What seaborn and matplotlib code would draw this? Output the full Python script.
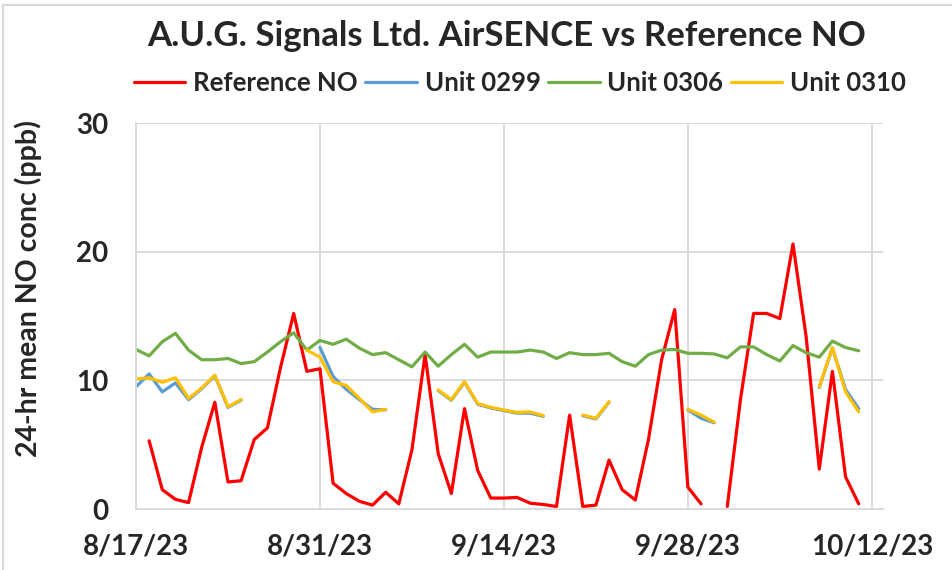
import numpy as np
import pandas as pd
import matplotlib
matplotlib.use("Agg")
import matplotlib.pyplot as plt
import matplotlib.dates as mdates
from matplotlib.lines import Line2D
import seaborn as sns

nan = np.nan

# daily 24-hr means, 8/17/23 .. 10/11/23
dates = pd.date_range("2023-08-17", periods=56, freq="D")

ref_no = [nan, 5.3, 1.5, 0.75, 0.5, 4.8, 8.3, 2.1, 2.2, 5.4,
          6.3, 11.0, 15.2, 10.7, 10.9, 2.0, 1.2, 0.6, 0.3, 1.3,
          0.4, 4.6, 12.0, 4.3, 1.2, 7.8, 3.0, 0.85, 0.85, 0.9,
          0.45, 0.35, 0.2, 7.3, 0.2, 0.3, 3.8, 1.5, 0.7, 5.4,
          11.6, 15.5, 1.7, 0.4, nan, 0.2, 8.5, 15.2, 15.2, 14.8,
          20.6, 13.4, 3.1, 10.7, 2.5, 0.4]

unit_0299 = [9.5, 10.5, 9.1, 9.8, 8.5, 9.35, 10.35, 7.9, 8.45, nan,
             nan, nan, nan, nan, 12.55, 10.3, 9.3, 8.5, 7.75, 7.7,
             nan, nan, nan, 9.2, 8.45, 9.85, 8.15, 7.85, 7.65, 7.45,
             7.45, 7.2, nan, nan, 7.25, 7.0, 8.3, nan, nan, nan,
             nan, nan, 7.7, 7.05, 6.7, nan, nan, nan, nan, nan,
             nan, nan, 9.45, 12.5, 9.3, 7.8]

unit_0306 = [12.4, 11.9, 13.0, 13.65, 12.35, 11.6, 11.6, 11.7, 11.3, 11.45,
             12.2, 13.0, 13.7, 12.35, 13.1, 12.8, 13.2, 12.5, 12.0, 12.15,
             11.6, 11.05, 12.2, 11.1, 12.0, 12.8, 11.8, 12.2, 12.2, 12.2,
             12.35, 12.2, 11.7, 12.15, 12.0, 12.0, 12.1, 11.45, 11.1, 12.0,
             12.35, 12.4, 12.1, 12.1, 12.05, 11.75, 12.6, 12.6, 12.0, 11.5,
             12.7, 12.15, 11.8, 13.05, 12.55, 12.3]

unit_0310 = [10.1, 10.2, 9.85, 10.2, 8.6, 9.4, 10.4, 7.95, 8.5, nan,
             nan, nan, nan, 12.35, 11.8, 9.9, 9.6, 8.6, 7.55, 7.75,
             nan, nan, nan, 9.25, 8.5, 9.9, 8.2, 7.9, 7.7, 7.5,
             7.55, 7.25, nan, nan, 7.3, 7.05, 8.35, nan, nan, nan,
             nan, nan, 7.75, 7.3, 6.75, nan, nan, nan, nan, nan,
             nan, nan, 9.5, 12.55, 9.1, 7.55]

series_names = ["Reference NO", "Unit 0299", "Unit 0306", "Unit 0310"]
series_colors = ["#FF0000", "#5B9BD5", "#70AD47", "#FFC000"]
tick_dates = ["2023-08-17", "2023-08-31", "2023-09-14", "2023-09-28", "2023-10-12"]

# long table; split each series at gaps so lines break like in Excel
frames = []
seg_id = 0
for name, vals in zip(series_names, [ref_no, unit_0299, unit_0306, unit_0310]):
    s = pd.Series(vals, index=dates)
    seg = s.isna().cumsum() + seg_id
    seg_id = seg.max() + 1
    part = pd.DataFrame({"date": dates, "value": s.values,
                         "series": name, "seg": seg.values}).dropna()
    frames.append(part)
df = pd.concat(frames, ignore_index=True)

sns.set_theme(style="white")
plt.rcParams["font.family"] = ["Lato", "DejaVu Sans"]
plt.rcParams["font.weight"] = "bold"

fig = plt.figure(figsize=(9.52, 5.70), dpi=100)
ax = fig.add_axes([136 / 952, 1 - 509 / 570, (883 - 136) / 952, (509 - 123) / 570])

sns.lineplot(data=df, x="date", y="value", hue="series", units="seg",
             estimator=None, hue_order=series_names,
             palette=dict(zip(series_names, series_colors)),
             linewidth=2.3, legend=False, ax=ax,
             solid_joinstyle="round", solid_capstyle="round")

grid_c = "#d9d9d9"
ax.set_ylim(0, 30)
ax.set_yticks([0, 10, 20, 30])
ax.set_xlim(pd.Timestamp("2023-08-17"), pd.Timestamp("2023-10-12") + pd.Timedelta(days=0.85))
ax.set_xticks(pd.to_datetime(tick_dates))
ax.xaxis.set_major_formatter(mdates.DateFormatter("%-m/%-d/%y"))
ax.grid(True, color=grid_c, linewidth=1.3)
ax.set_axisbelow(True)
for side in ["top", "right"]:
    ax.spines[side].set_visible(False)
for side in ["left", "bottom"]:
    ax.spines[side].set_color(grid_c)
    ax.spines[side].set_linewidth(1.3)
ax.tick_params(axis="both", length=0, labelsize=20)
ax.tick_params(axis="x", pad=18)
ax.tick_params(axis="y", pad=20)
for lab in ax.get_xticklabels() + ax.get_yticklabels():
    lab.set_fontweight("bold")
ax.set_xlabel("")
ax.set_ylabel("")

fig.text(28 / 952, 1 - 289 / 570, "24-hr mean NO conc (ppb)", rotation=90,
         ha="center", va="center", fontsize=20.5, fontweight="bold")

fig.text(507 / 952, 1 - 46 / 570, "A.U.G. Signals Ltd. AirSENCE vs Reference NO",
         ha="center", va="baseline", fontsize=25, fontweight="bold")

handles = [Line2D([], [], color=c, linewidth=2.3) for c in series_colors]
fig.legend(handles, series_names, loc="center", ncol=4, frameon=False,
           bbox_to_anchor=(520 / 952, 1 - 83 / 570),
           prop={"size": 18.5, "weight": "bold"},
           handlelength=2.0, handletextpad=0.3, columnspacing=0.3,
           borderaxespad=0, borderpad=0)

# light chart-area border visible on top and left edges
fig.add_artist(Line2D([3 / 952, 1], [1 - 5 / 570, 1 - 5 / 570], color=grid_c, linewidth=1.5))
fig.add_artist(Line2D([3 / 952, 3 / 952], [0, 1 - 5 / 570], color=grid_c, linewidth=1.5))

fig.savefig("out.png", dpi=100)
